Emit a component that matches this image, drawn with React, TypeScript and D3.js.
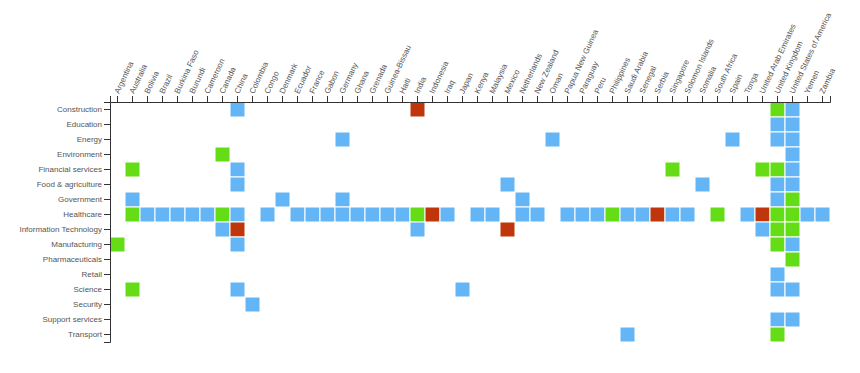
import React, { useEffect, useRef } from "react";
import * as d3 from "d3";

const countries = [
  "Argentina", "Australia", "Bolivia", "Brazil", "Burkina Faso", "Burundi", "Cameroon", "Canada",
  "China", "Colombia", "Congo", "Denmark", "Ecuador", "France", "Gabon", "Germany", "Ghana",
  "Grenada", "Guinea-Bissau", "Haiti", "India", "Indonesia", "Iraq", "Japan", "Kenya", "Malaysia",
  "Mexico", "Netherlands", "New Zealand", "Oman", "Papua New Guinea", "Paraguay", "Peru",
  "Philippines", "Saudi Arabia", "Senegal", "Serbia", "Singapore", "Solomon Islands", "Somalia",
  "South Africa", "Spain", "Tonga", "United Arab Emirates", "United Kingdom",
  "United States of America", "Yemen", "Zambia",
];

const sectors = [
  "Construction", "Education", "Energy", "Environment", "Financial services",
  "Food & agriculture", "Government", "Healthcare", "Information Technology", "Manufacturing",
  "Pharmaceuticals", "Retail", "Science", "Security", "Support services", "Transport",
];

const levels = [1, 2, 3];
const levelColors = ["#64b5f6", "#64dd17", "#bf360c"];

// [sector, country, level]
const cells: [string, string, number][] = [
  ["Construction", "China", 1], ["Construction", "India", 3], ["Construction", "United Kingdom", 2], ["Construction", "United States of America", 1],
  ["Education", "United Kingdom", 1], ["Education", "United States of America", 1],
  ["Energy", "Germany", 1], ["Energy", "Oman", 1], ["Energy", "Spain", 1], ["Energy", "United Kingdom", 1], ["Energy", "United States of America", 1],
  ["Environment", "Canada", 2], ["Environment", "United States of America", 1],
  ["Financial services", "Australia", 2], ["Financial services", "China", 1], ["Financial services", "Singapore", 2], ["Financial services", "United Arab Emirates", 2], ["Financial services", "United Kingdom", 2], ["Financial services", "United States of America", 1],
  ["Food & agriculture", "China", 1], ["Food & agriculture", "Mexico", 1], ["Food & agriculture", "Somalia", 1], ["Food & agriculture", "United Kingdom", 1], ["Food & agriculture", "United States of America", 1],
  ["Government", "Australia", 1], ["Government", "Denmark", 1], ["Government", "Germany", 1], ["Government", "Netherlands", 1], ["Government", "United Kingdom", 1], ["Government", "United States of America", 2],
  ["Healthcare", "Australia", 2], ["Healthcare", "Bolivia", 1], ["Healthcare", "Brazil", 1], ["Healthcare", "Burkina Faso", 1], ["Healthcare", "Burundi", 1], ["Healthcare", "Cameroon", 1], ["Healthcare", "Canada", 2], ["Healthcare", "China", 1], ["Healthcare", "Congo", 1], ["Healthcare", "Ecuador", 1], ["Healthcare", "France", 1], ["Healthcare", "Gabon", 1], ["Healthcare", "Germany", 1], ["Healthcare", "Ghana", 1], ["Healthcare", "Grenada", 1], ["Healthcare", "Guinea-Bissau", 1], ["Healthcare", "Haiti", 1], ["Healthcare", "India", 2], ["Healthcare", "Indonesia", 3], ["Healthcare", "Iraq", 1], ["Healthcare", "Kenya", 1], ["Healthcare", "Malaysia", 1], ["Healthcare", "Netherlands", 1], ["Healthcare", "New Zealand", 1], ["Healthcare", "Papua New Guinea", 1], ["Healthcare", "Paraguay", 1], ["Healthcare", "Peru", 1], ["Healthcare", "Philippines", 2], ["Healthcare", "Saudi Arabia", 1], ["Healthcare", "Senegal", 1], ["Healthcare", "Serbia", 3], ["Healthcare", "Singapore", 1], ["Healthcare", "Solomon Islands", 1], ["Healthcare", "South Africa", 2], ["Healthcare", "Tonga", 1], ["Healthcare", "United Arab Emirates", 3], ["Healthcare", "United Kingdom", 2], ["Healthcare", "United States of America", 2], ["Healthcare", "Yemen", 1], ["Healthcare", "Zambia", 1],
  ["Information Technology", "Canada", 1], ["Information Technology", "China", 3], ["Information Technology", "India", 1], ["Information Technology", "Mexico", 3], ["Information Technology", "United Arab Emirates", 1], ["Information Technology", "United Kingdom", 2], ["Information Technology", "United States of America", 2],
  ["Manufacturing", "Argentina", 2], ["Manufacturing", "China", 1], ["Manufacturing", "United Kingdom", 2], ["Manufacturing", "United States of America", 1],
  ["Pharmaceuticals", "United States of America", 2],
  ["Retail", "United Kingdom", 1],
  ["Science", "Australia", 2], ["Science", "China", 1], ["Science", "Japan", 1], ["Science", "United Kingdom", 1], ["Science", "United States of America", 1],
  ["Security", "Colombia", 1],
  ["Support services", "United Kingdom", 1], ["Support services", "United States of America", 1],
  ["Transport", "Saudi Arabia", 1], ["Transport", "United Kingdom", 2],
];

const W = 860;
const H = 373;
const margin = { top: 102, left: 110, right: 30, bottom: 31 };

export default function App() {
  const ref = useRef<SVGSVGElement>(null);
  useEffect(() => {
    const svg = d3.select(ref.current);
    svg.selectAll("*").remove();
    const innerW = W - margin.left - margin.right;
    const innerH = H - margin.top - margin.bottom;
    const x = d3.scaleBand().domain(countries).range([0, innerW]);
    const y = d3.scaleBand().domain(sectors).range([0, innerH]);
    const color = d3.scaleOrdinal<number, string>().domain(levels).range(levelColors);
    const g = svg.append("g").attr("transform", `translate(${margin.left},${margin.top})`);

    g.selectAll("rect.cell")
      .data(cells)
      .join("rect")
      .attr("class", "cell")
      .attr("x", (d) => x(d[1])!)
      .attr("y", (d) => y(d[0])!)
      .attr("width", x.bandwidth())
      .attr("height", y.bandwidth())
      .attr("fill", (d) => color(d[2]))
      .attr("stroke", "#fff")
      .attr("stroke-width", 1);

    const xAxis = g.append("g").call(d3.axisTop(x).tickSize(6));
    xAxis
      .selectAll("text")
      .attr("x", 0)
      .attr("y", 0)
      .attr("dy", "0.35em")
      .attr("text-anchor", "start")
      .attr("transform", "translate(-1,-9) rotate(-65)");

    const yAxis = g.append("g").call(d3.axisLeft(y).tickSize(6).tickPadding(2));

    [xAxis, yAxis].forEach((a) => {
      a.selectAll("text")
        .attr("fill", "#555")
        .attr("font-size", 8)
        .attr("font-family", "'Liberation Sans', Arial, sans-serif");
      a.selectAll("line").attr("stroke", "#333");
      a.select(".domain").attr("stroke", "#333");
    });
  }, []);
  return (
    <div style={{ position: "absolute", left: 0, top: 0 }}>
      <svg ref={ref} width={W} height={H} />
    </div>
  );
}
